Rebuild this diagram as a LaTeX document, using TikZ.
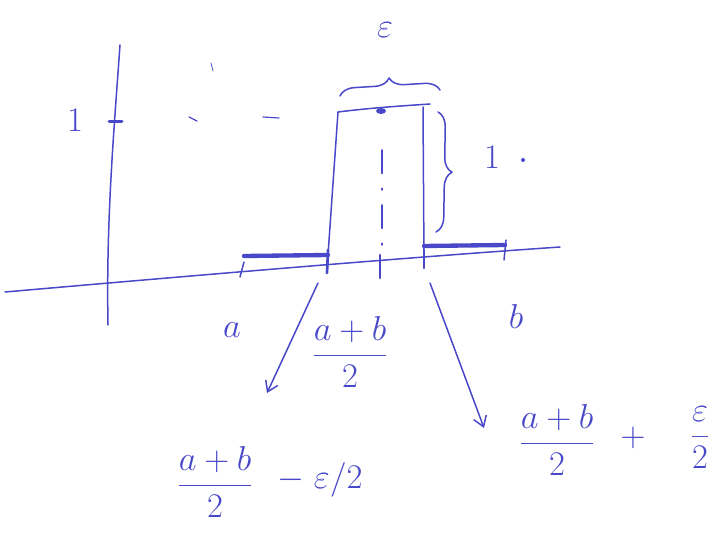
\documentclass[tikz,border=0pt]{standalone}
\usepackage{amsmath}
\usetikzlibrary{decorations.pathreplacing,arrows.meta}
\definecolor{pen}{RGB}{72,72,200}
\begin{document}
\begin{tikzpicture}[x=0.6pt,y=-0.6pt,
  ink/.style={draw=pen,line width=0.9pt,line cap=round,line join=round},
  thickseg/.style={draw=pen,line width=2.6pt,line cap=round},
  lbl/.style={text=pen,font=\huge,inner sep=1pt},
  bracestyle/.style={ink,decorate,decoration={brace,amplitude=9pt}},
  arr/.style={ink,-{Straight Barb[length=6pt,width=8pt]}}]
\useasboundingbox (0,0) rectangle (728,535);
% axes
\coordinate (xl) at (5,292);
\coordinate (xr) at (560,247);
\coordinate (yt) at (120,45);
\coordinate (yb) at (108,325);
\draw[ink] (xl) .. controls (200,275) and (400,258) .. (xr);
\draw[ink] (yt) .. controls (114,130) and (106,220) .. (yb);
% tick at 1 on y axis
\coordinate (t1a) at (109,122);
\coordinate (t1b) at (122,122);
\draw[ink,line width=1.8pt] (t1a) -- (t1b);
\node[lbl] (one) at (75,120) {$1$};
% faint dashes at level 1
\coordinate (d1a) at (189,117);
\coordinate (d1b) at (197,121);
\coordinate (d2a) at (263,117);
\coordinate (d2b) at (279,118);
\coordinate (d3a) at (211,63);
\coordinate (d3b) at (213,71);
\draw[ink,line width=0.7pt] (d1a) -- (d1b);
\draw[ink,line width=0.7pt] (d2a) -- (d2b);
\draw[ink,line width=0.5pt] (d3a) -- (d3b);
% thick segments on x axis
\coordinate (sa) at (244,256);
\coordinate (sb) at (328,255);
\coordinate (sc) at (424,246);
\coordinate (sd) at (505,245);
\draw[thickseg] (sa) -- (sb);
\draw[thickseg] (sc) -- (sd);
% ticks
\coordinate (ka1) at (244,262);
\coordinate (ka2) at (240,277);
\coordinate (kl1) at (328,250);
\coordinate (kl2) at (327,273);
\coordinate (km1) at (380,255);
\coordinate (km2) at (380,278);
\coordinate (kr1) at (424,250);
\coordinate (kr2) at (424,268);
\coordinate (kb1) at (506,240);
\coordinate (kb2) at (504,260);
\draw[ink] (ka1) -- (ka2);
\draw[ink,line width=1.6pt] (kl1) -- (kl2);
\draw[ink,line width=1.6pt] (km1) -- (km2);
\draw[ink,line width=1.6pt] (kr1) -- (kr2);
\draw[ink] (kb1) -- (kb2);
% rectangle
\coordinate (rbl) at (328,255);
\coordinate (rtl) at (338,112);
\coordinate (rtr) at (430,104);
\coordinate (rtrs) at (423,107);
\coordinate (rbr) at (424,262);
\draw[ink] (rbl) -- (rtl) .. controls (370,108) and (400,106) .. (rtr);
\draw[ink] (rtrs) -- (rbr);
\fill[pen] (381,111) ellipse (5 and 3);
% centre dash-dot line
\coordinate (ca) at (382,150);
\coordinate (cb) at (382,255);
\draw[ink,dash pattern=on 14pt off 9pt on 1pt off 9pt] (ca) -- (cb);
% top brace
\coordinate (bt1) at (340,96);
\coordinate (bt2) at (440,90);
\draw[bracestyle] (bt1) -- (bt2);
\node[lbl] (eps) at (385,30) {$\varepsilon$};
% right brace
\coordinate (br1) at (438,112);
\coordinate (br2) at (436,232);
\draw[bracestyle] (br1) -- (br2);
\node[lbl] (hone) at (492,157) {$1$};
\fill[pen] (523,160) circle (2);
% labels
\node[lbl] (a) at (232,330) {$a$};
\node[lbl] (b) at (516,316) {$b$};
\node[lbl] (mid) at (350,352) {$\dfrac{a+b}{2}$};
\node[lbl] (lfrac) at (215,482) {$\dfrac{a+b}{2}$};
\node[lbl] (lminus) at (320,480) {$-\;\varepsilon/2$};
\node[lbl] (rfrac) at (557,440) {$\dfrac{a+b}{2}$};
\node[lbl] (rplus) at (633,438) {$+$};
\node[lbl] (reps) at (700,438) {$\dfrac{\varepsilon}{2}$};
% arrows
\coordinate (la1) at (318,283);
\coordinate (la2) at (267,393);
\coordinate (ra1) at (430,283);
\coordinate (ra2) at (484,428);
\draw[arr] (la1) -- (la2);
\draw[arr] (ra1) -- (ra2);
\end{tikzpicture}
\end{document}
